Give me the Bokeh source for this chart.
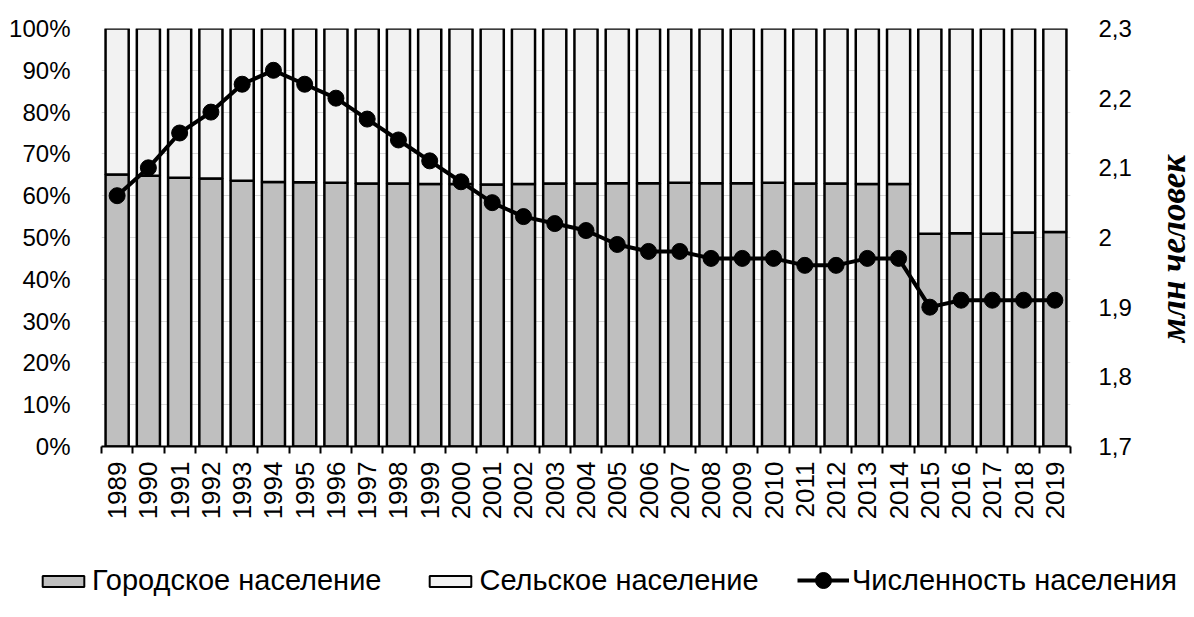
import numpy as np
from bokeh.plotting import figure
from bokeh.layouts import column, row
from bokeh.models import (Range1d, LinearAxis, FixedTicker, CustomJSTickFormatter,
                          Legend, LegendItem, ColumnDataSource, Title)
from bokeh.embed import file_html
from bokeh.resources import INLINE

years = list(range(1989, 2020))
urban_pct = [65.1, 64.8, 64.3, 64.1, 63.6, 63.3, 63.2, 63.1, 62.9, 62.9, 62.8,
             62.8, 62.7, 62.8, 62.9, 62.9, 63.0, 63.0, 63.1, 63.0, 63.0, 63.1,
             62.9, 62.9, 62.8, 62.8, 50.9, 51.0, 50.9, 51.2, 51.3]
population = [2.06, 2.10, 2.15, 2.18, 2.22, 2.24, 2.22, 2.20, 2.17, 2.14, 2.11,
              2.08, 2.05, 2.03, 2.02, 2.01, 1.99, 1.98, 1.98, 1.97, 1.97, 1.97,
              1.96, 1.96, 1.97, 1.97, 1.90, 1.91, 1.91, 1.91, 1.91]
left_ticks = [0, 10, 20, 30, 40, 50, 60, 70, 80, 90, 100]
right_ticks = [1.7, 1.8, 1.9, 2.0, 2.1, 2.2, 2.3]
labels = ["Городское население", "Сельское население", "Численность населения"]
right_title = "млн человек"

src = ColumnDataSource(dict(
    year=years,
    urban=urban_pct,
    total=[100] * len(years),
    pop=population,
))

FONT = "Liberation Sans"
URBAN = "#bfbfbf"
RURAL = "#f2f2f2"

H_MAIN = 547
H_LEG = 70
PW = 1134
RW = 60

p = figure(width=PW, height=H_MAIN, x_range=Range1d(years[0] - 0.5, years[-1] + 0.5),
           y_range=Range1d(0, 100), output_backend="svg", toolbar_location=None)
p.frame_align = False
p.min_border_left = 101
p.min_border_right = PW - 1074
p.min_border_top = 28
p.min_border_bottom = H_MAIN - 446
p.outline_line_color = None
p.background_fill_color = "white"

p.extra_y_ranges = {"right": Range1d(1.7, 2.3)}

# grid
p.xgrid.visible = False
p.ygrid.ticker = FixedTicker(ticks=left_ticks)
p.ygrid.grid_line_color = "#d9d9d9"
p.ygrid.grid_line_width = 1

# bars
p.vbar(x="year", top="urban", bottom=0, width=0.74, source=src,
       fill_color=URBAN, line_color="black", line_width=2.5)
p.vbar(x="year", top="total", bottom="urban", width=0.74, source=src,
       fill_color=RURAL, line_color="black", line_width=2.5)

# line
p.line(x="year", y="pop", source=src, y_range_name="right",
       line_color="black", line_width=4)
p.scatter(x="year", y="pop", source=src, y_range_name="right",
          size=16, fill_color="black", line_color="black")

# x axis
xa = p.xaxis[0]
xa.ticker = FixedTicker(ticks=years, minor_ticks=[y - 0.5 for y in years] + [years[-1] + 0.5])
xa.major_label_orientation = np.pi / 2
xa.major_tick_out = 0
xa.major_tick_in = 0
xa.minor_tick_out = 7
xa.minor_tick_in = 0
xa.minor_tick_line_color = "black"
xa.minor_tick_line_width = 2
xa.axis_line_color = "black"
xa.axis_line_width = 2
xa.major_label_text_font = FONT
xa.major_label_text_font_size = "26px"
xa.major_label_text_color = "black"
xa.major_label_standoff = 8

# left axis
ya = p.yaxis[0]
ya.ticker = FixedTicker(ticks=left_ticks)
ya.formatter = CustomJSTickFormatter(code="return Math.round(tick) + '%';")
ya.axis_line_color = None
ya.major_tick_line_color = None
ya.minor_tick_line_color = None
ya.major_label_text_font = FONT
ya.major_label_text_font_size = "24px"
ya.major_label_text_color = "black"
ya.major_label_standoff = 25

# right axis (ticks only; its title sits in the narrow figure beside it)
ra = LinearAxis(y_range_name="right")
ra.ticker = FixedTicker(ticks=right_ticks)
ra.formatter = CustomJSTickFormatter(
    code="var s = (Math.round(tick * 10) / 10).toString(); return s.replace('.', ',');")
ra.axis_line_color = None
ra.major_tick_line_color = None
ra.minor_tick_line_color = None
ra.major_label_text_font = FONT
ra.major_label_text_font_size = "24px"
ra.major_label_text_color = "black"
ra.major_label_standoff = 22
p.add_layout(ra, "right")

# narrow figure carrying the right-hand title (reads bottom to top)
r = figure(width=RW, height=H_MAIN, x_range=Range1d(0, 1), y_range=Range1d(0, 1),
           x_axis_type=None, y_axis_type=None, output_backend="svg",
           toolbar_location=None)
r.frame_align = False
r.min_border_left = RW - 2
r.min_border_right = 0
r.min_border_top = 39
r.min_border_bottom = H_MAIN - 457
r.outline_line_color = None
r.grid.visible = False
t = Title(text=right_title, align="center", text_font="Liberation Serif",
          text_font_style="bold italic", text_font_size="35px", text_color="black",
          standoff=0, offset=0)
r.add_layout(t, "left")

# legend figure (glyphs share the data but are hidden)
q = figure(width=PW + RW, height=H_LEG, x_range=Range1d(0, 1), y_range=Range1d(0, 1),
           x_axis_type=None, y_axis_type=None, output_backend="svg",
           toolbar_location=None)
q.frame_align = False
q.min_border_left = 0
q.min_border_right = 0
q.min_border_top = 0
q.min_border_bottom = 0
q.outline_line_color = None
q.grid.visible = False
lu = q.vbar(x="year", top="urban", bottom=0, width=0.74, source=src,
            fill_color=URBAN, line_color="black", line_width=2, visible=False)
lr = q.vbar(x="year", top="total", bottom="urban", width=0.74, source=src,
            fill_color=RURAL, line_color="black", line_width=2, visible=False)
ll = q.line(x="year", y="pop", source=src, line_color="black", line_width=4,
            visible=False)
lp = q.scatter(x="year", y="pop", source=src, size=16,
               fill_color="black", line_color="black", visible=False)

def style(lg, gh):
    lg.border_line_color = None
    lg.background_fill_alpha = 0
    lg.label_text_font = FONT
    lg.label_text_font_size = "29px"
    lg.label_text_color = "black"
    lg.glyph_width = 52
    lg.glyph_height = gh
    lg.label_standoff = 3
    lg.spacing = 43
    lg.margin = 0
    lg.padding = 0

leg_bars = Legend(items=[
    LegendItem(label=labels[0], renderers=[lu]),
    LegendItem(label=labels[1], renderers=[lr]),
], orientation="horizontal", location=(37, 20))
style(leg_bars, 14)
leg_line = Legend(items=[
    LegendItem(label=labels[2], renderers=[ll, lp]),
], orientation="horizontal", location=(797, 17))
style(leg_line, 40)
q.add_layout(leg_bars, "center")
q.add_layout(leg_line, "center")

layout = column(row(p, r, spacing=0), q, spacing=0)
open("out.html", "w").write(file_html(layout, INLINE))
